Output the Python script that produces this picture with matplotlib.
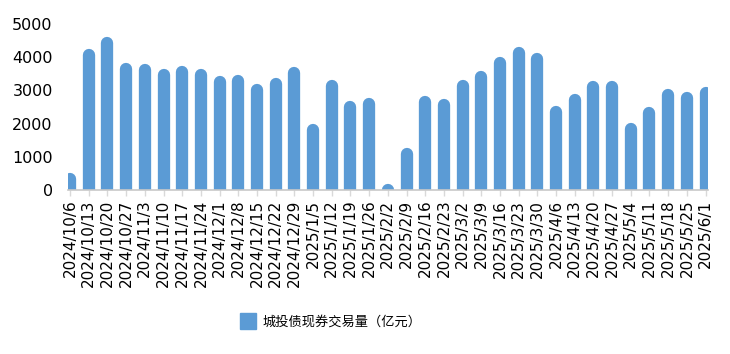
import numpy as np
import matplotlib
matplotlib.use('Agg')
import matplotlib.pyplot as plt
from matplotlib import collections as mc
from matplotlib.lines import Line2D

plt.rcParams['font.family'] = ['DejaVu Sans', 'Noto Sans CJK SC']
plt.rcParams['path.simplify'] = False

dates = ['2024/10/6', '2024/10/13', '2024/10/20', '2024/10/27', '2024/11/3',
         '2024/11/10', '2024/11/17', '2024/11/24', '2024/12/1', '2024/12/8',
         '2024/12/15', '2024/12/22', '2024/12/29', '2025/1/5', '2025/1/12',
         '2025/1/19', '2025/1/26', '2025/2/2', '2025/2/9', '2025/2/16',
         '2025/2/23', '2025/3/2', '2025/3/9', '2025/3/16', '2025/3/23',
         '2025/3/30', '2025/4/6', '2025/4/13', '2025/4/20', '2025/4/27',
         '2025/5/4', '2025/5/11', '2025/5/18', '2025/5/25', '2025/6/1']
volume = [530, 4250, 4600, 3830, 3800, 3650, 3730, 3650, 3430, 3470,
          3200, 3380, 3700, 2000, 3320, 2700, 2780, 200, 1280, 2840,
          2750, 3320, 3600, 4000, 4300, 4120, 2530, 2900, 3290, 3290,
          2030, 2500, 3050, 2960, 3110]
label = '城投债现券交易量（亿元）'

color = '#5B9BD5'

fig = plt.figure(figsize=(7.3, 3.54), dpi=100)
ax = fig.add_axes([68 / 730, 1 - 190 / 354, 640 / 730, 166 / 354])

x = np.arange(len(volume))
ymax = 5000
ax.set_ylim(0, ymax)
ax.set_xlim(-0.11, len(volume) - 1 + 0.13)

# bar width in pixels -> points, radius of round top in data units
bar_px = 12.3
lw = bar_px * 72 / fig.dpi
r = (bar_px / 2) / (166 / ymax)

# body as a thick line with round cap; the bottom cap falls below 0 and is clipped
segs = [[(xi, -r), (xi, max(v - r, -r + 1))] for xi, v in zip(x, volume)]
bars = mc.LineCollection(segs, linewidths=lw, colors=color, capstyle='round')
ax.add_collection(bars)

ax.set_yticks(range(0, 5001, 1000))
ax.set_xticks(x)
ax.set_xticklabels(dates, rotation=90, fontsize=11)
ax.tick_params(axis='y', length=0, pad=11, labelsize=11.5)
ax.tick_params(axis='x', length=4, width=1, color='#D9D9D9', pad=3)

for s in ('top', 'right', 'left'):
    ax.spines[s].set_visible(False)
ax.spines['bottom'].set_color('#C8C8C8')
ax.spines['bottom'].set_linewidth(1.2)
ax.spines['bottom'].set_zorder(3)

handle = Line2D([], [], marker='s', linestyle='none', markersize=12,
                markerfacecolor=color, markeredgecolor=color)
fig.legend([handle], [label], loc='center', bbox_to_anchor=(0.45, 0.09),
           frameon=False, handletextpad=0.1,
           prop={'family': ['Noto Sans CJK SC'], 'size': 9.5})

fig.savefig('out.png', dpi=100)
